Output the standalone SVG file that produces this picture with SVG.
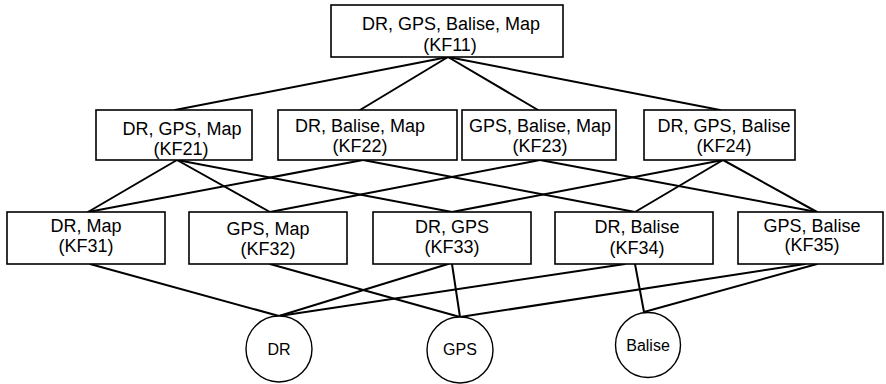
<svg xmlns="http://www.w3.org/2000/svg" width="886" height="384" viewBox="0 0 886 384">
<style>
  .box { fill: #fff; stroke: #000; stroke-width: 1.6; }
  .circ { fill: #fff; stroke: #000; stroke-width: 1.4; }
  .t { font-family: "Liberation Sans", Arial, sans-serif; font-size: 18px; fill: #000; text-anchor: middle; }
  .c { font-family: "Liberation Sans", Arial, sans-serif; font-size: 16px; fill: #000; text-anchor: middle; }
  .edges line { stroke: #000; stroke-width: 2; stroke-linecap: round; }
</style>
<rect width="886" height="384" fill="#fff"/>
<g id="connectors" class="edges">
  <line x1="448" y1="57" x2="175" y2="110"/>
  <line x1="448" y1="57" x2="360" y2="110"/>
  <line x1="448" y1="57" x2="538" y2="110"/>
  <line x1="448" y1="57" x2="720" y2="110"/>
  <line x1="177" y1="160" x2="88" y2="212"/>
  <line x1="177" y1="160" x2="270" y2="212"/>
  <line x1="177" y1="160" x2="452" y2="212"/>
  <line x1="363" y1="160" x2="88" y2="212"/>
  <line x1="363" y1="160" x2="635" y2="212"/>
  <line x1="540" y1="160" x2="270" y2="212"/>
  <line x1="540" y1="160" x2="817" y2="212"/>
  <line x1="723" y1="160" x2="452" y2="212"/>
  <line x1="723" y1="160" x2="635" y2="212"/>
  <line x1="723" y1="160" x2="817" y2="212"/>
  <line x1="90" y1="264" x2="279" y2="316"/>
  <line x1="270" y1="264" x2="460" y2="317"/>
  <line x1="448" y1="264" x2="279" y2="316"/>
  <line x1="452" y1="264" x2="460" y2="317"/>
  <line x1="625" y1="264" x2="279" y2="316"/>
  <line x1="635" y1="264" x2="644" y2="312"/>
  <line x1="805" y1="264" x2="460" y2="317"/>
  <line x1="817" y1="264" x2="644" y2="312"/>
</g>
<g id="KF11"><rect class="box" x="331" y="5" width="232" height="52"/><text class="t" x="451" y="30">DR, GPS, Balise, Map</text><text class="t" x="450" y="51">(KF11)</text></g>
<g id="KF21"><rect class="box" x="96" y="110" width="156" height="50"/><text class="t" x="182" y="135">DR, GPS, Map</text><text class="t" x="181" y="155">(KF21)</text></g>
<g id="KF22"><rect class="box" x="278" y="110" width="179" height="50"/><text class="t" x="360" y="132">DR, Balise, Map</text><text class="t" x="360" y="152">(KF22)</text></g>
<g id="KF23"><rect class="box" x="462" y="110" width="154" height="50"/><text class="t" x="540" y="132">GPS, Balise, Map</text><text class="t" x="540" y="152">(KF23)</text></g>
<g id="KF24"><rect class="box" x="644" y="110" width="151" height="50"/><text class="t" x="724" y="132">DR, GPS, Balise</text><text class="t" x="724" y="152">(KF24)</text></g>
<g id="KF31"><rect class="box" x="7" y="212" width="158" height="52"/><text class="t" x="86" y="232">DR, Map</text><text class="t" x="86" y="252">(KF31)</text></g>
<g id="KF32"><rect class="box" x="189" y="212" width="158" height="52"/><text class="t" x="268" y="235">GPS, Map</text><text class="t" x="268" y="255">(KF32)</text></g>
<g id="KF33"><rect class="box" x="373" y="212" width="158" height="52"/><text class="t" x="452" y="233">DR, GPS</text><text class="t" x="452" y="253">(KF33)</text></g>
<g id="KF34"><rect class="box" x="555" y="212" width="158" height="52"/><text class="t" x="637" y="233">DR, Balise</text><text class="t" x="637" y="254">(KF34)</text></g>
<g id="KF35"><rect class="box" x="738" y="212" width="145" height="52"/><text class="t" x="812" y="232">GPS, Balise</text><text class="t" x="812" y="251">(KF35)</text></g>
<g id="DR"><circle class="circ" cx="279" cy="349" r="33"/><text class="c" x="279" y="355">DR</text></g>
<g id="GPS"><circle class="circ" cx="460" cy="350" r="33"/><text class="c" x="460" y="355">GPS</text></g>
<g id="Balise"><circle class="circ" cx="648" cy="345" r="32.5"/><text class="c" x="648" y="351">Balise</text></g>
</svg>
